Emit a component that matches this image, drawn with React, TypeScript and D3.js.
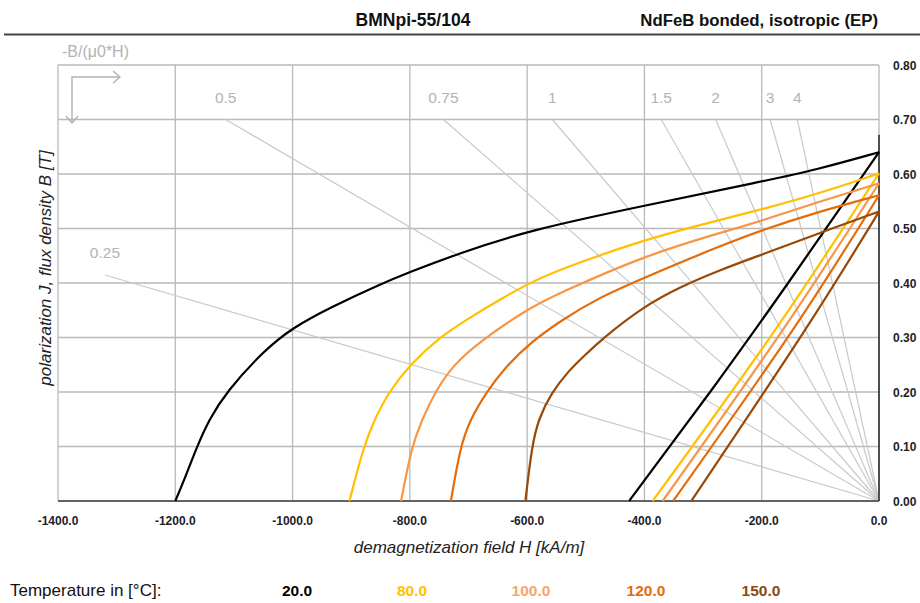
import React from "react";
import * as d3 from "d3";

const WIDTH = 920;
const HEIGHT = 603;

// Axis ticks
const hTicks = [-1400, -1200, -1000, -800, -600, -400, -200, 0];
const bTicks = [0, 0.1, 0.2, 0.3, 0.4, 0.5, 0.6, 0.7, 0.8];

// Temperatures and their colours
const temperatures = ["20.0", "80.0", "100.0", "120.0", "150.0"];
const curveColors = ["#000000", "#FFC000", "#F79646", "#E46C0A", "#984807"];
const legendColors = ["#000000", "#FFC000", "#F9A468", "#E46C0A", "#8A4A12"];

// Polarization J(H) curves [kA/m, T]
const jH20 = [-1200, -1186, -1163, -1142, -1113, -1050, -1000, -936, -850, -800, -720, -600, -400, -200, -106, 0];
const jB20 = [0, 0.035, 0.1, 0.15, 0.2, 0.275, 0.318, 0.355, 0.398, 0.42, 0.453, 0.496, 0.542, 0.586, 0.608, 0.64];

const jH80 = [-903, -879, -860, -836, -800, -750, -700, -649, -600, -544, -400, -271, -200, -106, 0];
const jB80 = [0, 0.1, 0.15, 0.2, 0.25, 0.3, 0.335, 0.368, 0.398, 0.425, 0.48, 0.516, 0.535, 0.563, 0.601];

const jH100 = [-815, -797, -779, -757, -726, -680, -600, -544, -400, -271, -200, -106, 0];
const jB100 = [0, 0.1, 0.15, 0.2, 0.25, 0.293, 0.352, 0.382, 0.45, 0.492, 0.514, 0.548, 0.583];

const jH120 = [-730, -714, -697, -669, -638, -595, -544, -480, -400, -271, -200, -106, 0];
const jB120 = [0, 0.1, 0.15, 0.2, 0.245, 0.29, 0.33, 0.372, 0.41, 0.468, 0.497, 0.53, 0.561];

const jH150 = [-603, -592, -581, -558, -528, -510, -471, -400, -339, -271, -200, -106, 0];
const jB150 = [0, 0.1, 0.15, 0.2, 0.24, 0.259, 0.299, 0.358, 0.393, 0.424, 0.452, 0.49, 0.531];

// Flux density B(H) lines [kA/m, T]
const bH20 = [-426, -288, -155, 0];
const bB20 = [0, 0.2, 0.4, 0.64];
const bH80 = [-386, -177, 0];
const bB80 = [0, 0.314, 0.601];
const bH100 = [-369, -164, 0];
const bB100 = [0, 0.314, 0.583];
const bH120 = [-351, -147, 0];
const bB120 = [0, 0.314, 0.561];
const bH150 = [-320, -126, 0];
const bB150 = [0, 0.314, 0.531];

// Permeance coefficients -B/(mu0*H)
const permeance = [0.25, 0.5, 0.75, 1, 1.5, 2, 3, 4];
const permeanceLabels = ["0.25", "0.5", "0.75", "1", "1.5", "2", "3", "4"];

const jCurves = [
  [jH20, jB20],
  [jH80, jB80],
  [jH100, jB100],
  [jH120, jB120],
  [jH150, jB150],
];
const bCurves = [
  [bH20, bB20],
  [bH80, bB80],
  [bH100, bB100],
  [bH120, bB120],
  [bH150, bB150],
];

const MU0 = 4 * Math.PI * 1e-4; // T per kA/m
const FONT = "'Liberation Sans', Arial, sans-serif";

export default function App() {
  const x = d3.scaleLinear().domain([-1400, 0]).range([58, 879]);
  const y = d3.scaleLinear().domain([0, 0.8]).range([501, 65]);

  const smooth = d3
    .line<[number, number]>()
    .x((d) => x(d[0]))
    .y((d) => y(d[1]))
    .curve(d3.curveBasis);
  const gentle = d3
    .line<[number, number]>()
    .x((d) => x(d[0]))
    .y((d) => y(d[1]))
    .curve(d3.curveNatural);

  const toPts = (hs: number[], bs: number[]) =>
    hs.map((h, i) => [h, bs[i]] as [number, number]);

  const gridColor = "#b9b9b9";
  const loadColor = "#c9c9c9";

  // Permeance lines from the origin up to B = 0.70 or H = -1320
  const loadLines = permeance.map((p, i) => {
    const hStart = Math.max(-1320, -0.7 / (p * MU0));
    const bStart = -p * MU0 * hStart;
    return { hStart, bStart, label: permeanceLabels[i] };
  });

  const legendX = [297, 412, 531, 646, 761];

  return (
    <svg
      width={WIDTH}
      height={HEIGHT}
      style={{ position: "absolute", left: 0, top: 0, background: "#fff" }}
      fontFamily={FONT}
    >
      {/* Header */}
      <text x={413} y={26} textAnchor="middle" fontSize={17.5} fontWeight="bold" fill="#111">
        BMNpi-55/104
      </text>
      <text x={878} y={26} textAnchor="end" fontSize={16.8} fontWeight="bold" fill="#111">
        NdFeB bonded, isotropic (EP)
      </text>
      <line x1={4} x2={920} y1={34.5} y2={34.5} stroke="#454545" strokeWidth={2} />

      {/* Grid */}
      {hTicks.map((h) => (
        <line key={"gv" + h} x1={x(h)} x2={x(h)} y1={y(0)} y2={y(0.8)} stroke={gridColor} strokeWidth={1.3} />
      ))}
      {bTicks.map((b) => (
        <line key={"gh" + b} x1={x(-1400)} x2={x(0)} y1={y(b)} y2={y(b)} stroke={gridColor} strokeWidth={1.3} />
      ))}

      {/* Permeance lines */}
      {loadLines.map((l) => (
        <g key={"p" + l.label}>
          <line x1={x(l.hStart)} y1={y(l.bStart)} x2={x(0)} y2={y(0)} stroke={loadColor} strokeWidth={1.2} />
          <text x={x(l.hStart)} y={y(l.bStart) - 17} textAnchor="middle" fontSize={15.5} fill="#b3b3b3">
            {l.label}
          </text>
        </g>
      ))}

      {/* Permeance label and direction arrows */}
      <text x={62} y={57} fontSize={16} fill="#b3b3b3">
        -B/(μ0*H)
      </text>
      <g stroke="#b3b3b3" strokeWidth={1.4} fill="none">
        <path d="M72,123 L72,77 L120,77" />
        <path d="M113,71 L120,77 L113,83" />
        <path d="M66,116 L72,123 L78,116" />
      </g>

      {/* Axes */}
      <line x1={x(0)} x2={x(0)} y1={y(0)} y2={y(0.672)} stroke="#222" strokeWidth={1.5} />
      <line x1={x(-1400)} x2={x(0)} y1={y(0)} y2={y(0)} stroke="#404040" strokeWidth={1.6} />

      {/* B(H) lines */}
      {bCurves.map((c, i) => (
        <path key={"b" + i} d={gentle(toPts(c[0], c[1])) || ""} fill="none" stroke={curveColors[i]} strokeWidth={2.2} />
      ))}
      {/* J(H) curves */}
      {jCurves.map((c, i) => (
        <path key={"j" + i} d={smooth(toPts(c[0], c[1])) || ""} fill="none" stroke={curveColors[i]} strokeWidth={2.2} />
      ))}

      {/* Right axis tick labels */}
      {bTicks.map((b) => (
        <text key={"bt" + b} x={893} y={y(b) + 4.5} fontSize={12} fontWeight="bold" fill="#1d1d2b">
          {b.toFixed(2)}
        </text>
      ))}
      {/* Bottom axis tick labels */}
      {hTicks.map((h) => (
        <text key={"ht" + h} x={x(h)} y={525} textAnchor="middle" fontSize={12} fontWeight="bold" fill="#1d1d2b">
          {h.toFixed(1)}
        </text>
      ))}

      {/* Axis titles */}
      <text x={469} y={553} textAnchor="middle" fontSize={17} fontStyle="italic" fill="#222">
        demagnetization field H [kA/m]
      </text>
      <text
        transform={`translate(51,268) rotate(-90)`}
        textAnchor="middle"
        fontSize={17}
        fontStyle="italic"
        fill="#222"
      >
        polarization J, flux density B [T]
      </text>

      {/* Temperature legend */}
      <text x={10} y={596} fontSize={17} fill="#111">
        Temperature in [°C]:
      </text>
      {temperatures.map((t, i) => (
        <text key={"t" + t} x={legendX[i]} y={596} textAnchor="middle" fontSize={15.5} fontWeight="bold" fill={legendColors[i]}>
          {t}
        </text>
      ))}
    </svg>
  );
}
